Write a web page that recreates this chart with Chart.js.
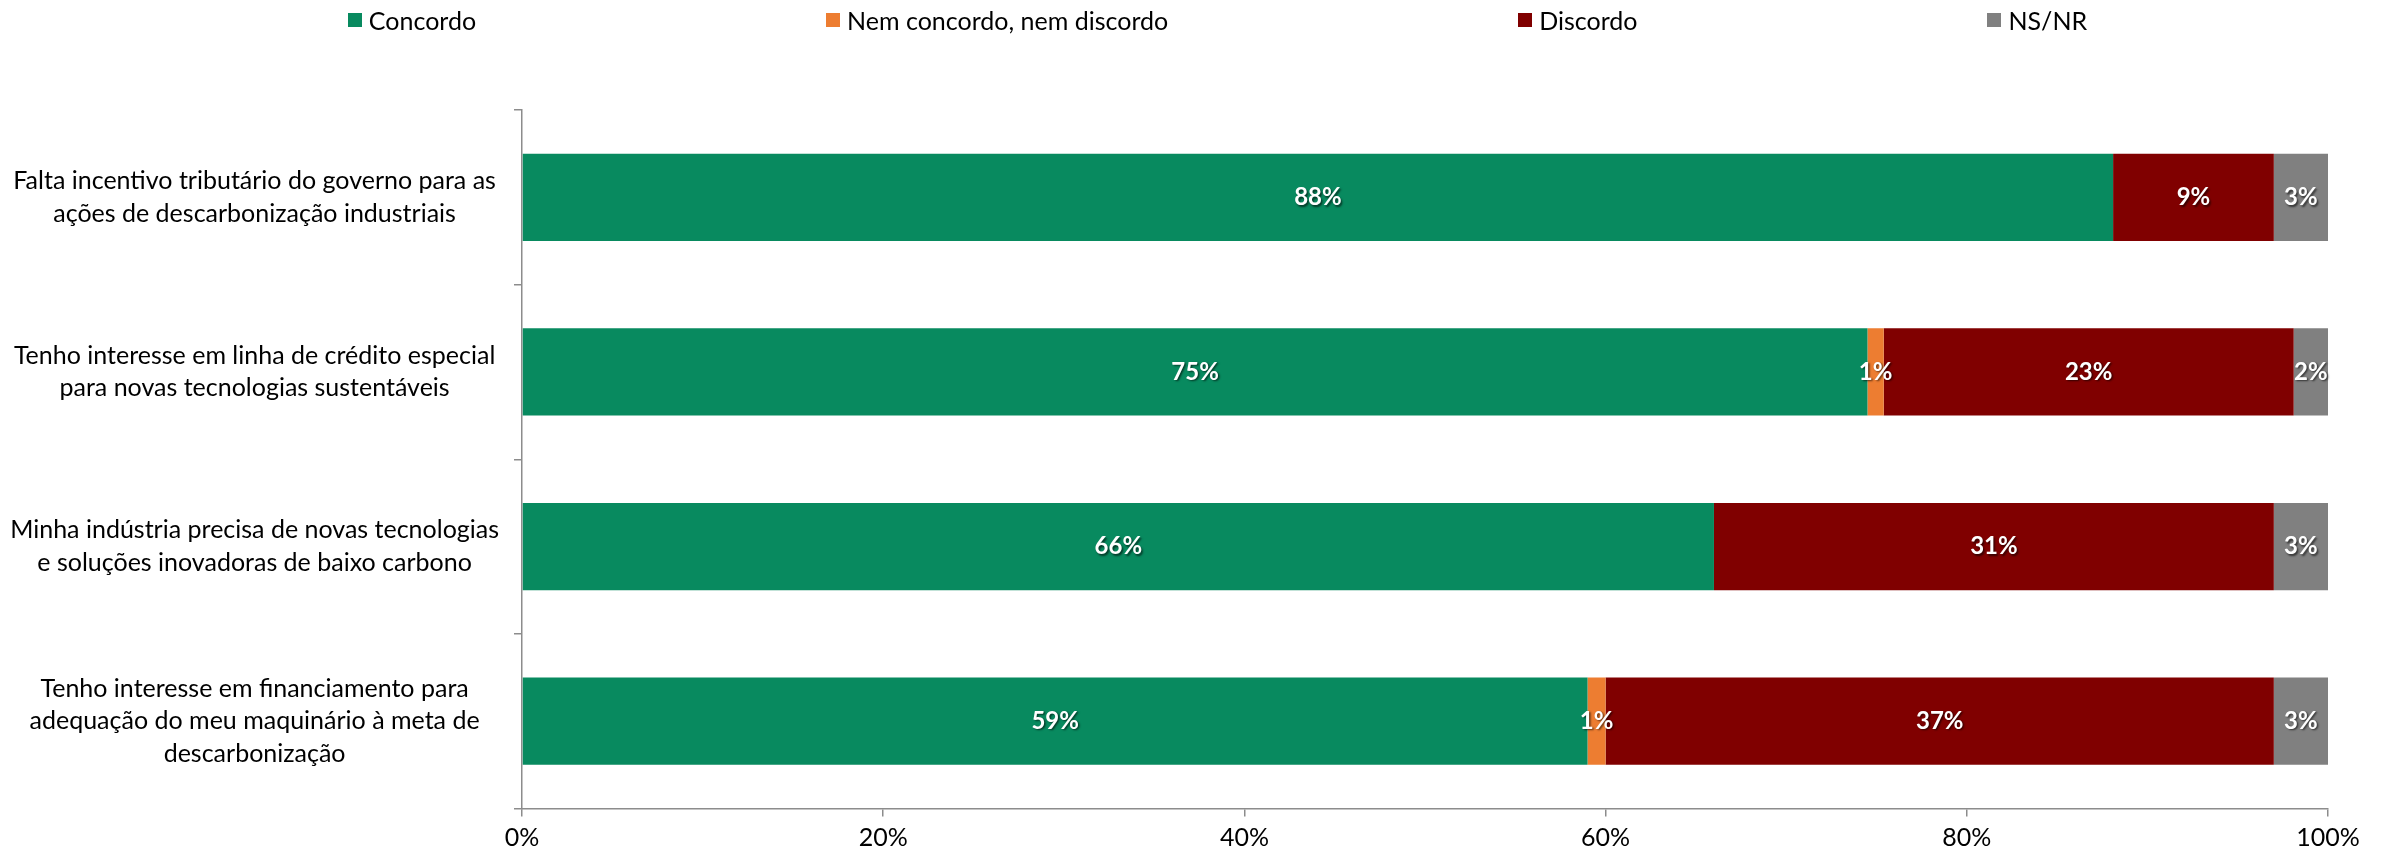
<!DOCTYPE html>
<html>
<head>
<meta charset="utf-8">
<script src="https://cdn.jsdelivr.net/npm/chart.js@4.4.1/dist/chart.umd.min.js"></script>
<style>
body { margin: 0; background: #fff; }
#wrap { position: relative; width: 2387px; height: 856px; }
#legend { position: absolute; top: 0; left: 0; width: 100%; box-sizing: border-box; padding-left: 48px; display: flex; justify-content: center; gap: 350px; font-family: Lato, sans-serif; font-size: 25px; line-height: 40px; color: #000; }
.item { display: flex; align-items: center; }
.box { width: 14px; height: 14px; margin-right: 7px; }
</style>
</head>
<body>
<div id="wrap">
<canvas id="chart"></canvas>
<div id="legend"></div>
</div>
<script>
const categories = [
    ["Falta incentivo tributário do governo para as", "ações de descarbonização industriais"],
    ["Tenho interesse em linha de crédito especial", "para novas tecnologias sustentáveis"],
    ["Minha indústria precisa de novas tecnologias", "e soluções inovadoras de baixo carbono"],
    ["Tenho interesse em financiamento para", "adequação do meu maquinário à meta de", "descarbonização"]
];

const seriesNames = ["Concordo", "Nem concordo, nem discordo", "Discordo", "NS/NR"];
const seriesColors = ["#088a5f", "#ed7d31", "#800000", "#808080"];

const concordo = [88.1, 74.5, 66, 59];
const nemNem = [0, 0.9, 0, 1];
const discordo = [8.9, 22.7, 31, 37];
const nsnr = [3, 1.9, 3, 3];

const xTicks = [0, 20, 40, 60, 80, 100];

const values = [concordo, nemNem, discordo, nsnr];

// Legend (HTML, spaced like the original)
const legend = document.getElementById("legend");
seriesNames.forEach((name, i) => {
    const item = document.createElement("div");
    item.className = "item";
    item.innerHTML = '<span class="box" style="background:' + seriesColors[i] + '"></span>' + name;
    legend.appendChild(item);
});

// Value labels in the middle of each segment
const valueLabels = {
    id: "valueLabels",
    afterDatasetsDraw(chart) {
        const ctx = chart.ctx;
        ctx.save();
        ctx.font = "bold 24px Lato";
        ctx.fillStyle = "#fff";
        ctx.textAlign = "center";
        ctx.textBaseline = "middle";
        ctx.shadowColor = "rgba(0,0,0,0.6)";
        ctx.shadowOffsetX = 1.5;
        ctx.shadowOffsetY = 1.5;
        ctx.shadowBlur = 2;
        chart.data.datasets.forEach((ds, i) => {
            chart.getDatasetMeta(i).data.forEach((bar, j) => {
                const v = ds.data[j];
                if (!v) return;
                ctx.fillText(Math.round(v) + "%", (bar.x + bar.base) / 2, bar.y);
            });
        });
        ctx.restore();
    }
};

const axisColor = "#8c8c8c";

new Chart(document.getElementById("chart"), {
    type: "bar",
    data: {
        labels: categories,
        datasets: seriesNames.map((name, i) => ({
            label: name,
            data: values[i],
            backgroundColor: seriesColors[i],
            borderWidth: 0,
            barPercentage: 0.5,
            categoryPercentage: 1
        }))
    },
    options: {
        indexAxis: "y",
        responsive: true,
        maintainAspectRatio: false,
        animation: false,
        layout: { padding: { top: 110, right: 59, left: 0, bottom: 0 } },
        plugins: {
            legend: { display: false },
            tooltip: { enabled: false }
        },
        scales: {
            x: {
                stacked: true,
                min: 0,
                max: 100,
                afterBuildTicks(scale) {
                    scale.ticks = xTicks.map(v => ({ value: v }));
                },
                afterFit(scale) { scale.height = 46; },
                grid: { display: true, drawOnChartArea: false, drawTicks: true, tickLength: 8, color: axisColor, lineWidth: 1.5 },
                border: { display: true, color: axisColor, width: 1.5 },
                ticks: {
                    padding: 6,
                    color: "#000",
                    font: { family: "Lato", size: 25 },
                    callback: v => v + "%"
                }
            },
            y: {
                stacked: true,
                afterFit(scale) { scale.width = 522; },
                grid: { display: true, drawOnChartArea: false, drawTicks: true, tickLength: 8, color: axisColor, lineWidth: 1.5 },
                border: { display: true, color: axisColor, width: 1.5 },
                ticks: {
                    padding: 15,
                    crossAlign: "center",
                    color: "#000",
                    font: { family: "Lato", size: 25, lineHeight: 1.3 }
                }
            }
        }
    },
    plugins: [valueLabels]
});
</script>
</body>
</html>
